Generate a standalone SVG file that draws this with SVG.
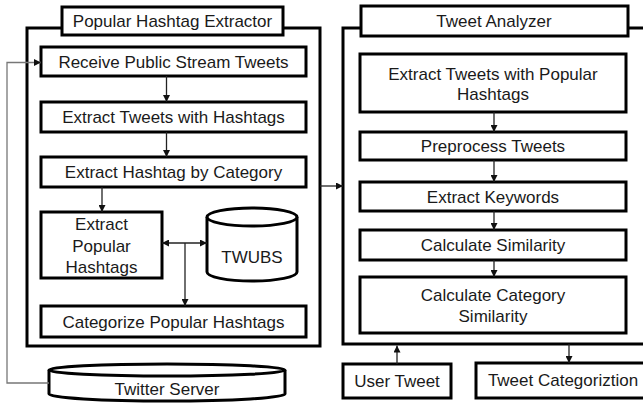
<svg xmlns="http://www.w3.org/2000/svg" width="643" height="403" viewBox="0 0 643 403">
<style>
.box{fill:#fff;stroke:#000;stroke-width:3}
.outer{fill:#fff;stroke:#000;stroke-width:3}
.t{font-family:"Liberation Sans",Arial,sans-serif;font-size:17px;fill:#1a1a1a;text-anchor:middle}
.c{fill:none;stroke:#222;stroke-width:1.3}
.g{fill:none;stroke:#777;stroke-width:1.3}
</style>
<defs>
<marker id="ah" viewBox="0 0 10 10" refX="10" refY="5" markerWidth="7" markerHeight="7" orient="auto-start-reverse" markerUnits="userSpaceOnUse">
<path d="M0,0 L10,5 L0,10 z" fill="#111"/>
</marker>
</defs>
<rect width="643" height="403" fill="#fff"/>

<g id="popular-hashtag-extractor">
<rect class="outer" x="27" y="28" width="293" height="318"/>
<rect class="box" x="62" y="7" width="221" height="28"/>
<text class="t" x="172.5" y="27">Popular Hashtag Extractor</text>
</g>
<g id="tweet-analyzer">
<rect class="outer" x="343" y="28" width="310" height="316"/>
<rect class="box" x="361" y="6" width="267" height="30"/>
<text class="t" x="494" y="27">Tweet Analyzer</text>
</g>

<g id="receive">
<rect class="box" x="41" y="47" width="265" height="29"/>
<text class="t" x="173.5" y="68">Receive Public Stream Tweets</text>
</g>
<g id="extract-tweets-hashtags">
<rect class="box" x="41" y="102" width="265" height="30"/>
<text class="t" x="173.5" y="123">Extract Tweets with Hashtags</text>
</g>
<g id="extract-hashtag-category">
<rect class="box" x="41" y="157" width="265" height="30"/>
<text class="t" x="173.5" y="178">Extract Hashtag by Category</text>
</g>
<g id="extract-popular-hashtags">
<rect class="box" x="41" y="212" width="121" height="66"/>
<text class="t" x="101.5" y="230">Extract</text>
<text class="t" x="101.5" y="252">Popular</text>
<text class="t" x="101.5" y="273">Hashtags</text>
</g>
<g id="twubs">
<path class="box" d="M207,217 L207,272 A45,9 0 0 0 297,272 L297,217"/>
<ellipse class="box" cx="252" cy="217" rx="45" ry="9"/>
<text class="t" x="252" y="263">TWUBS</text>
</g>
<g id="categorize">
<rect class="box" x="41" y="306" width="265" height="31"/>
<text class="t" x="173.5" y="328">Categorize Popular Hashtags</text>
</g>
<g id="twitter-server">
<path class="box" d="M49,370 L49,394 A118,7 0 0 0 285,394 L285,370"/>
<ellipse class="box" cx="167" cy="370" rx="118" ry="6"/>
<text class="t" x="167" y="395">Twitter Server</text>
</g>

<g id="extract-tweets-popular">
<rect class="box" x="360" y="54" width="266" height="58"/>
<text class="t" x="493" y="80">Extract Tweets with Popular</text>
<text class="t" x="493" y="100">Hashtags</text>
</g>
<g id="preprocess">
<rect class="box" x="360" y="132" width="266" height="28"/>
<text class="t" x="493" y="152">Preprocess Tweets</text>
</g>
<g id="extract-keywords">
<rect class="box" x="360" y="182" width="266" height="29"/>
<text class="t" x="493" y="202.5">Extract Keywords</text>
</g>
<g id="calc-similarity">
<rect class="box" x="360" y="230" width="266" height="30"/>
<text class="t" x="493" y="251">Calculate Similarity</text>
</g>
<g id="calc-category-similarity">
<rect class="box" x="360" y="277" width="266" height="56"/>
<text class="t" x="493" y="301">Calculate Category</text>
<text class="t" x="493" y="322">Similarity</text>
</g>
<g id="user-tweet">
<rect class="box" x="343" y="364" width="108" height="34"/>
<text class="t" x="397" y="387">User Tweet</text>
</g>
<g id="tweet-categorization">
<rect class="box" x="476" y="363" width="180" height="35"/>
<text class="t" x="563" y="386">Tweet Categoriztion</text>
</g>

<g id="connectors">
<path class="c" d="M166.5,76 V102" marker-end="url(#ah)"/>
<path class="c" d="M166.5,132 V157" marker-end="url(#ah)"/>
<path class="c" d="M102,187 V212" marker-end="url(#ah)"/>
<path class="c" d="M162,243 H207" marker-start="url(#ah)" marker-end="url(#ah)"/>
<path class="c" d="M185,243 V306" marker-end="url(#ah)"/>
<path class="g" d="M49,383 H7 V62.5 H41" marker-end="url(#ah)"/>
<path class="c" d="M320,186 H343" marker-end="url(#ah)"/>
<path class="c" d="M494,112 V132" marker-end="url(#ah)"/>
<path class="c" d="M494,160 V182" marker-end="url(#ah)"/>
<path class="c" d="M494,211 V230" marker-end="url(#ah)"/>
<path class="c" d="M494,260 V277" marker-end="url(#ah)"/>
<path class="c" d="M397,364 V345.5" marker-end="url(#ah)"/>
<path class="c" d="M569,344 V363" marker-end="url(#ah)"/>
</g>
</svg>
